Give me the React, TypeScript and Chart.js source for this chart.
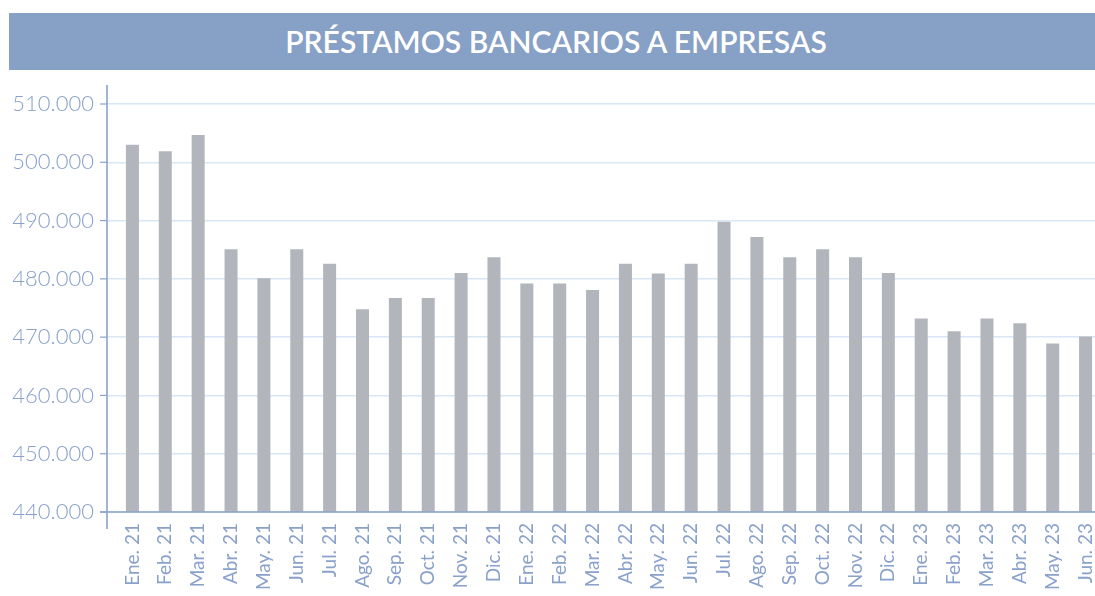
import React, { useEffect, useRef } from "react";
import { Chart, registerables } from "chart.js";

Chart.register(...registerables);

const TITLE = "PRÉSTAMOS BANCARIOS A EMPRESAS";

const categories = [
  "Ene. 21", "Feb. 21", "Mar. 21", "Abr. 21", "May. 21", "Jun. 21",
  "Jul. 21", "Ago. 21", "Sep. 21", "Oct. 21", "Nov. 21", "Dic. 21",
  "Ene. 22", "Feb. 22", "Mar. 22", "Abr. 22", "May. 22", "Jun. 22",
  "Jul. 22", "Ago. 22", "Sep. 22", "Oct. 22", "Nov. 22", "Dic. 22",
  "Ene. 23", "Feb. 23", "Mar. 23", "Abr. 23", "May. 23", "Jun. 23",
];

const loans = [
  503000, 501900, 504700, 485100, 480100, 485100,
  482600, 474800, 476700, 476700, 481000, 483700,
  479200, 479200, 478100, 482600, 480900, 482600,
  489800, 487200, 483700, 485100, 483700, 481000,
  473200, 471000, 473200, 472400, 468900, 470100,
];

const yMin = 440000;
const yMax = 510000;
const yStep = 10000;

const AXIS_COLOR = "#8aa3cb";
const LABEL_COLOR = "#8aa1cb";
const GRID_COLOR = "rgba(180,205,235,0.5)";
const BAR_COLOR = "#b2b6bc";
const BANNER_COLOR = "#87a0c6";

const formatThousands = (v: number) => {
  const k = Math.floor(v / 1000);
  const r = Math.round(v % 1000);
  return `${k}.${String(r).padStart(3, "0")}`;
};

const axisPlugin = {
  id: "axisLines",
  afterDraw(chart: any) {
    const { ctx, chartArea, scales } = chart;
    const yScale = scales.y;
    const axX = chartArea.left - 9;
    ctx.save();
    ctx.strokeStyle = AXIS_COLOR;
    ctx.lineWidth = 1.6;
    ctx.beginPath();
    ctx.moveTo(axX, chartArea.top - 19);
    ctx.lineTo(axX, chartArea.bottom + 17);
    ctx.stroke();
    ctx.beginPath();
    ctx.moveTo(axX - 7, chartArea.bottom);
    ctx.lineTo(chartArea.right, chartArea.bottom);
    ctx.stroke();
    ctx.lineWidth = 1.2;
    for (const t of yScale.ticks) {
      const py = yScale.getPixelForValue(t.value);
      ctx.beginPath();
      ctx.moveTo(axX - 7, py);
      ctx.lineTo(axX, py);
      ctx.stroke();
    }
    ctx.restore();
  },
};

export default function App() {
  const canvasRef = useRef<HTMLCanvasElement | null>(null);

  useEffect(() => {
    if (!canvasRef.current) return;
    const chart = new Chart(canvasRef.current, {
      type: "bar",
      data: {
        labels: categories,
        datasets: [
          {
            label: "Préstamos",
            data: loans,
            backgroundColor: BAR_COLOR,
            borderWidth: 0,
            barPercentage: 0.396,
            categoryPercentage: 1,
          },
        ],
      },
      options: {
        responsive: false,
        animation: false,
        devicePixelRatio: 1,
        layout: { padding: { top: 104, left: 0, right: 28, bottom: 0 } },
        plugins: {
          legend: { display: false },
          tooltip: { enabled: false },
          title: { display: false },
        },
        scales: {
          x: {
            offset: true,
            grid: { display: false, drawTicks: false },
            border: { display: false },
            ticks: {
              minRotation: 90,
              maxRotation: 90,
              autoSkip: false,
              padding: 11,
              color: LABEL_COLOR,
              font: { family: "Lato", size: 19, weight: "400" },
            },
            afterFit: (s: any) => {
              s.height = 128;
            },
          },
          y: {
            min: yMin,
            max: yMax,
            z: 1,
            border: { display: false },
            grid: {
              color: GRID_COLOR,
              lineWidth: 1.5,
              drawTicks: true,
              tickLength: 9,
              tickColor: GRID_COLOR,
            },
            ticks: {
              stepSize: yStep,
              padding: 13,
              color: LABEL_COLOR,
              font: { family: "Lato", size: 22, weight: "300" },
              callback: (v: any) => formatThousands(Number(v)),
            },
            afterFit: (s: any) => {
              s.width = 116;
            },
          },
        },
      },
      plugins: [axisPlugin],
    });
    return () => chart.destroy();
  }, []);

  return (
    <div
      style={{
        position: "fixed",
        left: 0,
        top: 0,
        width: 1095,
        height: 596,
        overflow: "hidden",
        background: "#ffffff",
      }}
    >
      <canvas
        ref={canvasRef}
        width={1130}
        height={640}
        style={{ position: "absolute", left: 0, top: 0, width: 1130, height: 640 }}
      />
      <div
        style={{
          position: "absolute",
          left: 9,
          top: 13,
          width: 1094,
          height: 57,
          background: BANNER_COLOR,
          color: "#ffffff",
          fontFamily: "Lato, sans-serif",
          fontWeight: 600,
          fontSize: 30,
          lineHeight: "57px",
          textAlign: "center",
          whiteSpace: "nowrap",
        }}
      >
        {TITLE}
      </div>
    </div>
  );
}
